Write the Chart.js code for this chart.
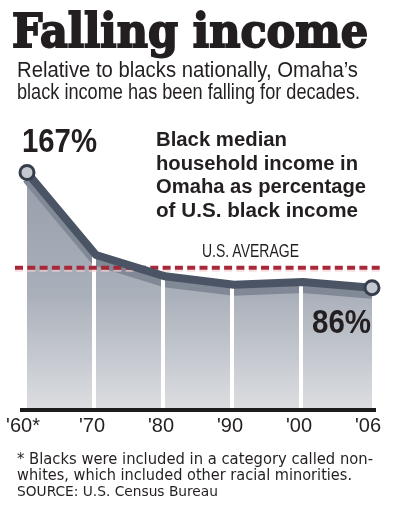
<!DOCTYPE html>
<html><head><meta charset="utf-8">
<script src="https://cdn.jsdelivr.net/npm/chart.js@4"></script>
<style>
html,body{margin:0;padding:0;background:#fff;}
#wrap{position:relative;width:393px;height:511px;overflow:hidden;background:#fff;}
#c{position:absolute;left:0;top:0;}
.t{position:absolute;white-space:nowrap;transform-origin:0 0;color:#231f20;line-height:1;}
#title{left:12px;top:7px;font-family:"DejaVu Serif Condensed","DejaVu Serif",serif;font-weight:bold;font-size:47px;-webkit-text-stroke:1.8px #231f20;}
.sub{left:17px;font-family:"Liberation Sans Narrow","Liberation Sans",sans-serif;font-size:22px;}
.big{font-family:"Liberation Sans Narrow","Liberation Sans",sans-serif;font-weight:bold;font-size:33px;}
.ann{left:156px;font-family:"Liberation Sans Narrow","Liberation Sans",sans-serif;font-weight:bold;font-size:19.5px;}
#avg{left:202px;top:242px;font-family:"Liberation Sans Narrow","Liberation Sans",sans-serif;font-size:18px;}
.foot{left:17px;font-family:"DejaVu Sans Condensed","DejaVu Sans",sans-serif;font-size:15px;}
</style></head>
<body><div id="wrap">
<canvas id="c" width="393" height="511"></canvas>
<div class="t" id="title">Falling income</div>
<div class="t sub" id="s1" style="top:59px">Relative to blacks nationally, Omaha’s</div>
<div class="t sub" id="s2" style="top:81px">black income has been falling for decades.</div>
<div class="t big" id="p1" style="left:22px;top:124px">167%</div>
<div class="t big" id="p2" style="left:312px;top:305px">86%</div>
<div class="t ann" id="a1" style="top:130px">Black median</div>
<div class="t ann" id="a2" style="top:153.5px">household income in</div>
<div class="t ann" id="a3" style="top:177px">Omaha as percentage</div>
<div class="t ann" id="a4" style="top:201px">of U.S. black income</div>
<div class="t" id="avg">U.S. AVERAGE</div>
<div class="t foot" id="f1" style="top:452px">* Blacks were included in a category called non-</div>
<div class="t foot" id="f2" style="top:468px">whites, which included other racial minorities.</div>
<div class="t foot" id="f3" style="top:484px;font-size:14px">SOURCE: U.S. Census Bureau</div>
</div>
<script>
// ---- data ----
const categories = ["'60*", "'70", "'80", "'90", "'00", "'06"];
const omahaPct = [167, 109, 94, 88, 90, 86];
const usAverage = 100;
const yMin = 0;
const yMax = 180;

// ---- fit text widths ----
function fit(id, w){
  const el = document.getElementById(id);
  const r = el.getBoundingClientRect().width;
  if (r > 0) el.style.transform = 'scaleX(' + (w / r) + ')';
}
fit('title', 356); fit('s1', 341); fit('s2', 343);
fit('p1', 75); fit('p2', 59);
fit('a1', 131); fit('a2', 202); fit('a3', 210); fit('a4', 202);
fit('avg', 97); fit('f1', 356); fit('f2', 335); fit('f3', 201);

const LINE = '#4a5465';
const decor = {
  id: 'decor',
  beforeDatasetDraw(chart, args){
    if (args.index === 1){ chart.ctx.save(); chart.ctx.translate(0, 6); }
  },
  afterDatasetDraw(chart, args){
    const {ctx, chartArea: a, scales: {x, y}} = chart;
    if (args.index !== 1) return;
    ctx.restore();
    // white separators
    ctx.save();
    ctx.strokeStyle = '#ffffff';
    ctx.lineWidth = 4;
    for (let i = 1; i < categories.length - 1; i++){
      const px = x.getPixelForValue(i) - 2;
      ctx.beginPath();
      ctx.moveTo(px, y.getPixelForValue(omahaPct[i]));
      ctx.lineTo(px, a.bottom);
      ctx.stroke();
    }
    // US average dashed line
    const ay = y.getPixelForValue(usAverage);
    ctx.strokeStyle = 'rgba(245,205,210,0.7)';
    ctx.lineWidth = 2;
    ctx.setLineDash([8, 4.3]);
    ctx.beginPath(); ctx.moveTo(a.left - 12, ay + 3); ctx.lineTo(a.right + 10, ay + 3); ctx.stroke();
    ctx.strokeStyle = '#a8283a';
    ctx.lineWidth = 4;
    ctx.beginPath(); ctx.moveTo(a.left - 12, ay); ctx.lineTo(a.right + 10, ay); ctx.stroke();
    ctx.restore();
  },
  afterDraw(chart){
    const {ctx, chartArea: a} = chart;
    ctx.save();
    ctx.strokeStyle = '#1c1c1e';
    ctx.lineWidth = 4;
    ctx.beginPath(); ctx.moveTo(a.left - 7, a.bottom); ctx.lineTo(a.right + 4, a.bottom); ctx.stroke();
    ctx.restore();
  }
};

new Chart(document.getElementById('c'), {
  type: 'line',
  data: {
    labels: categories,
    datasets: [
      { // main line
        data: omahaPct,
        borderColor: LINE,
        borderWidth: 8,
        tension: 0,
        fill: false,
        clip: false,
        pointRadius: omahaPct.map((v, i) => (i === 0 || i === omahaPct.length - 1) ? 7 : 0),
        pointBackgroundColor: '#c4c9d0',
        pointBorderColor: '#363e4c',
        pointBorderWidth: 3,
        borderJoinStyle: 'round',
        borderCapStyle: 'round'
      },
      { // shadow band
        data: omahaPct,
        borderColor: '#808995',
        borderWidth: 10,
        tension: 0,
        fill: false,
        pointRadius: 0
      },
      { // area fill
        data: omahaPct,
        borderWidth: 0,
        pointRadius: 0,
        tension: 0,
        fill: 'origin',
        backgroundColor(c){
          const a = c.chart.chartArea;
          if (!a) return '#b0b6bf';
          const g = c.chart.ctx.createLinearGradient(0, a.top, 0, a.bottom);
          g.addColorStop(0, '#959ca8');
          g.addColorStop(0.55, '#aab0ba');
          g.addColorStop(1, '#dcdee1');
          return g;
        }
      }
    ]
  },
  options: {
    responsive: false,
    animation: false,
    events: [],
    layout: { padding: { left: 27, right: 21, top: 154, bottom: 69 } },
    plugins: { legend: { display: false }, tooltip: { enabled: false } },
    scales: {
      x: {
        offset: false,
        grid: { display: false, drawTicks: false },
        border: { display: false },
        ticks: { color: '#231f20', padding: 4, labelOffset: -4, font: { family: '"Liberation Sans Narrow", "Liberation Sans", sans-serif', size: 20 }, maxRotation: 0, autoSkip: false }
      },
      y: { display: false, min: yMin, max: yMax }
    }
  },
  plugins: [decor]
});
</script>
</body></html>
